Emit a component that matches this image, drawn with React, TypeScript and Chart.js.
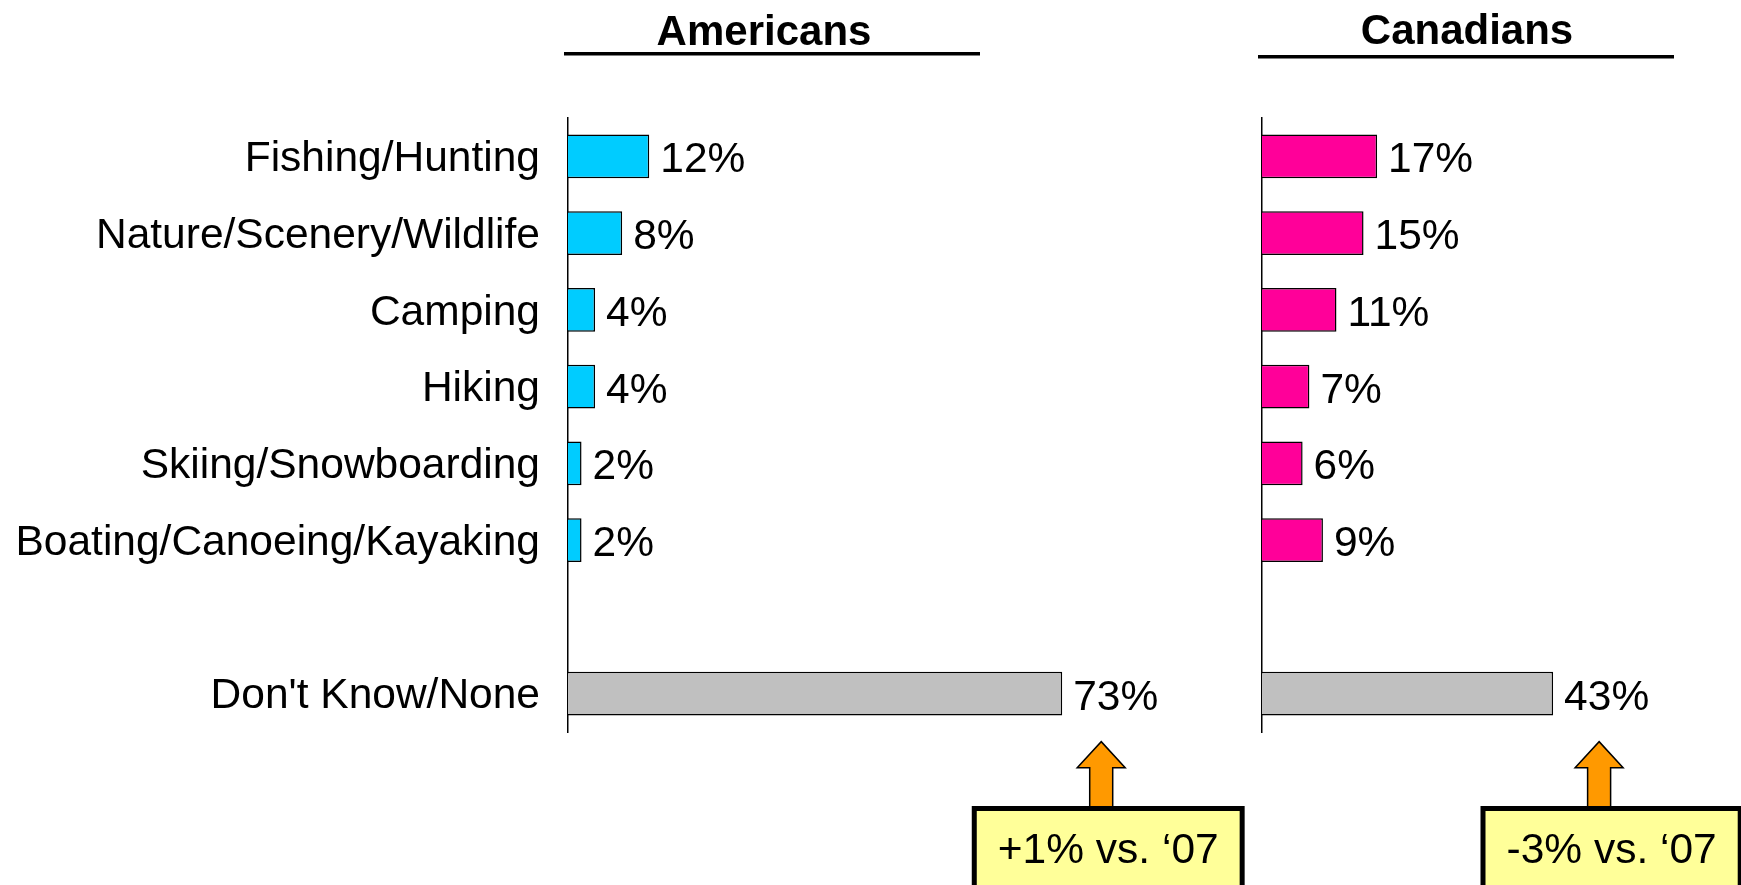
import React, { useEffect, useRef } from "react";
import { Chart, registerables } from "chart.js";

Chart.register(...registerables);

const FONT = "'Liberation Sans', Arial, Helvetica, sans-serif";

// ---- data ----
const categories = [
  "Fishing/Hunting",
  "Nature/Scenery/Wildlife",
  "Camping",
  "Hiking",
  "Skiing/Snowboarding",
  "Boating/Canoeing/Kayaking",
  "",
  "Don't Know/None",
];
const americansValues = [12, 8, 4, 4, 2, 2, null, 73];
const canadiansValues = [17, 15, 11, 7, 6, 9, null, 43];
const panelTitles = ["Americans", "Canadians"];
const changeNotes = ["+1% vs. \u201807", "-3% vs. \u201807"];
const noteCategory = "Don't Know/None";
const valueMax = 100;

const CYAN = "#00CCFF";
const MAGENTA = "#FF0099";
const GRAY = "#C0C0C0";

const colorsFor = (base: string) =>
  categories.map((c) => (c === noteCategory ? GRAY : base));

const decorPlugin = {
  id: "panelDecor",
  afterDatasetsDraw(chart: any, _args: any, opts: any) {
    const ctx = chart.ctx;
    const area = chart.chartArea;
    const meta = chart.getDatasetMeta(0);
    const data = chart.data.datasets[0].data;
    ctx.save();
    // value labels
    ctx.fillStyle = "#000";
    ctx.font = `42.5px ${FONT}`;
    ctx.textAlign = "left";
    ctx.textBaseline = "alphabetic";
    meta.data.forEach((bar: any, i: number) => {
      const v = data[i];
      if (v == null) return;
      ctx.fillText(`${v}%`, bar.x + 11, bar.y + 16);
    });
    // title + underline
    ctx.font = `bold 42px ${FONT}`;
    ctx.textAlign = "center";
    ctx.fillText(opts.title, area.left + opts.titleDx, opts.titleY);
    ctx.fillRect(area.left - 4, opts.lineY - 2, 416, 3.5);
    // arrow + note box
    const idx = categories.indexOf(noteCategory);
    const bar = meta.data[idx];
    const ax = bar.x + opts.arrowDx;
    const tipY = bar.y + 48;
    const headY = tipY + 26;
    const shaftBottom = 808;
    ctx.beginPath();
    ctx.moveTo(ax, tipY);
    ctx.lineTo(ax + 24, headY);
    ctx.lineTo(ax + 11.5, headY);
    ctx.lineTo(ax + 11.5, shaftBottom);
    ctx.lineTo(ax - 11.5, shaftBottom);
    ctx.lineTo(ax - 11.5, headY);
    ctx.lineTo(ax - 24, headY);
    ctx.closePath();
    ctx.fillStyle = "#FF9900";
    ctx.fill();
    ctx.lineWidth = 1.5;
    ctx.strokeStyle = "#000";
    ctx.stroke();

    ctx.font = `42.5px ${FONT}`;
    const tw = ctx.measureText(opts.note).width;
    const bw = tw + 52;
    const bx = bar.x + opts.boxDx;
    const top = 806;
    ctx.lineWidth = 5;
    ctx.fillStyle = "#FFFF99";
    ctx.fillRect(bx - bw / 2 + 2.5, top + 2.5, bw - 5, 90);
    ctx.strokeRect(bx - bw / 2 + 2.5, top + 2.5, bw - 5, 90);
    ctx.fillStyle = "#000";
    ctx.textAlign = "center";
    ctx.fillText(opts.note, bx, 863);
    ctx.restore();
  },
};

function makeConfig(
  values: (number | null)[],
  base: string,
  axisWidth: number,
  showLabels: boolean,
  padRight: number,
  decor: any
): any {
  return {
    type: "bar",
    data: {
      labels: categories,
      datasets: [
        {
          data: values,
          backgroundColor: colorsFor(base),
          borderColor: "#000",
          borderWidth: 1.5,
          barPercentage: 0.573,
          categoryPercentage: 1,
        },
      ],
    },
    plugins: [decorPlugin],
    options: {
      indexAxis: "y",
      responsive: false,
      animation: false,
      devicePixelRatio: 1,
      layout: { padding: { top: 118, bottom: 153, left: 0, right: padRight } },
      scales: {
        x: { display: false, min: 0, max: valueMax },
        y: {
          grid: { display: false, drawTicks: false },
          border: { display: true, color: "#000", width: 1.5 },
          ticks: {
            display: showLabels,
            padding: 28,
            labelOffset: 3,
            color: "#000",
            font: { family: FONT, size: 42.5 },
            autoSkip: false,
          },
          afterFit: (s: any) => {
            s.width = axisWidth;
          },
        },
      },
      plugins: {
        legend: { display: false },
        tooltip: { enabled: false },
        title: { display: false },
        panelDecor: decor,
      },
    },
  };
}

export default function App() {
  const ref1 = useRef<HTMLCanvasElement>(null);
  const ref2 = useRef<HTMLCanvasElement>(null);

  useEffect(() => {
    document.body.style.margin = "0";
    const c1 = new Chart(
      ref1.current as HTMLCanvasElement,
      makeConfig(americansValues, CYAN, 568, true, 0, {
        title: panelTitles[0],
        note: changeNotes[0],
        titleDx: 196,
        titleY: 45,
        lineY: 54,
        arrowDx: 39,
        boxDx: 46,
      })
    );
    const c2 = new Chart(
      ref2.current as HTMLCanvasElement,
      makeConfig(canadiansValues, MAGENTA, 12, false, 11, {
        title: panelTitles[1],
        note: changeNotes[1],
        titleDx: 205,
        titleY: 44,
        lineY: 57,
        arrowDx: 46,
        boxDx: 58.5,
      })
    );
    return () => {
      c1.destroy();
      c2.destroy();
    };
  }, []);

  return (
    <div
      style={{
        position: "absolute",
        left: 0,
        top: 0,
        width: 1741,
        height: 885,
        overflow: "hidden",
        background: "#fff",
      }}
    >
      <canvas
        ref={ref1}
        width={1245}
        height={885}
        style={{ position: "absolute", left: 0, top: 0, width: 1245, height: 885 }}
      />
      <canvas
        ref={ref2}
        width={700}
        height={885}
        style={{ position: "absolute", left: 1250, top: 0, width: 700, height: 885 }}
      />
    </div>
  );
}
